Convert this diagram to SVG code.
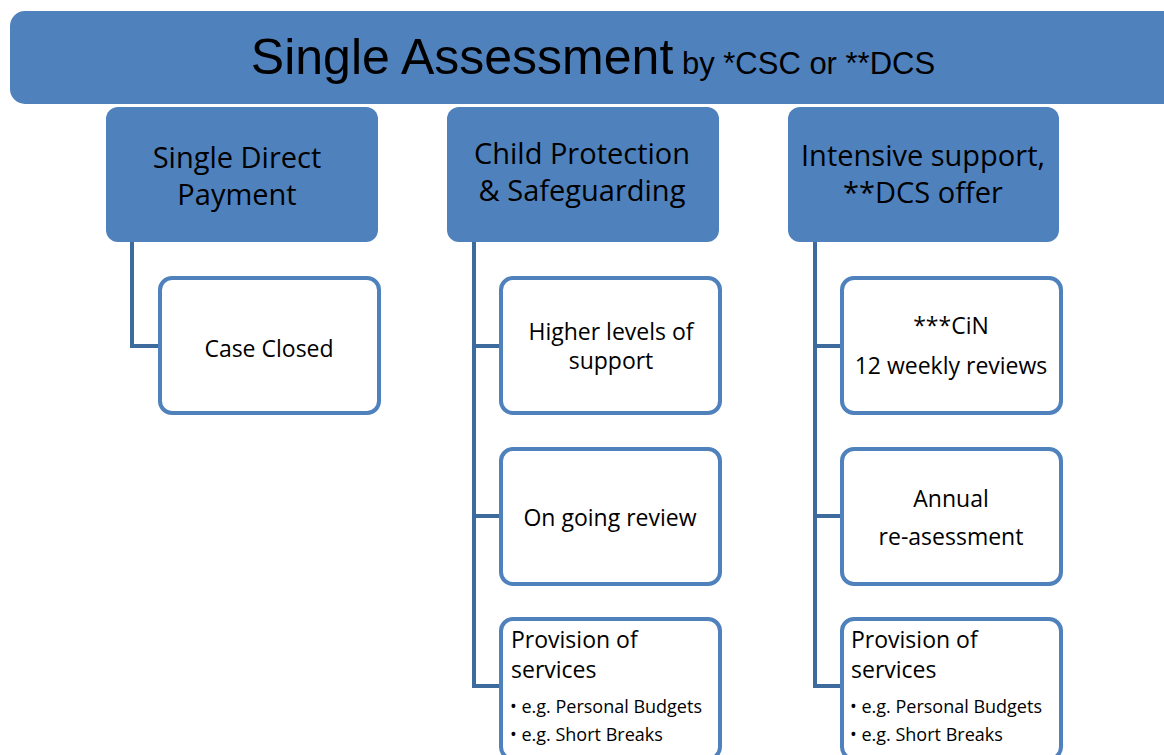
<svg xmlns="http://www.w3.org/2000/svg" width="1164" height="755" viewBox="0 0 1164 755">
<style>
.hdr{fill:#4F81BD;}
.l1{fill:#4F81BD;}
.l2{fill:#FFFFFF;stroke:#4F81BD;stroke-width:4;}
.t{font-family:"Open Sans","Liberation Sans",sans-serif;fill:#000;}
.c1{font-size:29px;text-anchor:middle;}
.c2{font-size:23px;text-anchor:middle;}
.c3{font-size:23px;}
.c4{font-size:18px;}
.conn{fill:none;stroke:#3E6B9E;stroke-width:4;}
</style>
<rect width="1164" height="755" fill="#FFFFFF"/>
<g id="header">
<rect class="hdr" x="10" y="11" width="1170" height="93" rx="15"/>
<text x="593" y="74" text-anchor="middle" font-family="'Liberation Sans',Arial,sans-serif" fill="#000"><tspan font-size="50">Single Assessment</tspan><tspan font-size="31"> by *CSC or **DCS</tspan></text>
</g>
<g id="connectors">
<polyline class="conn" points="132,242 132,346 160,346"/>
<polyline class="conn" points="474,242 474,686 501,686"/>
<line class="conn" x1="474" y1="346" x2="501" y2="346"/>
<line class="conn" x1="474" y1="516" x2="501" y2="516"/>
<polyline class="conn" points="815,242 815,686 842,686"/>
<line class="conn" x1="815" y1="346" x2="842" y2="346"/>
<line class="conn" x1="815" y1="516" x2="842" y2="516"/>
</g>
<g id="n-sdp">
<rect class="l1" x="106" y="107" width="272" height="135" rx="12"/>
<text class="t c1" x="237" y="168">Single Direct</text>
<text class="t c1" x="237" y="205">Payment</text>
</g>
<g id="n-cps">
<rect class="l1" x="447" y="107" width="272" height="135" rx="12"/>
<text class="t c1" x="582" y="164">Child Protection</text>
<text class="t c1" x="582" y="201">&amp; Safeguarding</text>
</g>
<g id="n-isd">
<rect class="l1" x="788" y="107" width="271" height="135" rx="12"/>
<text class="t c1" x="923" y="166">Intensive support,</text>
<text class="t c1" x="923" y="203">**DCS offer</text>
</g>
<g id="n-closed">
<rect class="l2" x="160" y="278" width="219" height="135" rx="12"/>
<text class="t c2" x="269" y="357">Case Closed</text>
</g>
<g id="n-higher">
<rect class="l2" x="501" y="278" width="219" height="135" rx="12"/>
<text class="t c2" x="611" y="340">Higher levels of</text>
<text class="t c2" x="611" y="369">support</text>
</g>
<g id="n-review">
<rect class="l2" x="501" y="449" width="219" height="135" rx="12"/>
<text class="t c2" x="610" y="526">On going review</text>
</g>
<g id="n-prov1">
<rect class="l2" x="501" y="619" width="219" height="140" rx="12"/>
<text class="t c3" x="511" y="648">Provision of</text>
<text class="t c3" x="511" y="678">services</text>
<text class="t c4" x="510" y="713">• e.g. Personal Budgets</text>
<text class="t c4" x="510" y="741">• e.g. Short Breaks</text>
</g>
<g id="n-cin">
<rect class="l2" x="842" y="278" width="219" height="135" rx="12"/>
<text class="t c2" x="951" y="334">***CiN</text>
<text class="t c2" x="951" y="374">12 weekly reviews</text>
</g>
<g id="n-annual">
<rect class="l2" x="842" y="449" width="219" height="135" rx="12"/>
<text class="t c2" x="951" y="507">Annual</text>
<text class="t c2" x="951" y="545">re-asessment</text>
</g>
<g id="n-prov2">
<rect class="l2" x="842" y="619" width="219" height="140" rx="12"/>
<text class="t c3" x="851" y="648">Provision of</text>
<text class="t c3" x="851" y="678">services</text>
<text class="t c4" x="850" y="713">• e.g. Personal Budgets</text>
<text class="t c4" x="850" y="741">• e.g. Short Breaks</text>
</g>
</svg>
